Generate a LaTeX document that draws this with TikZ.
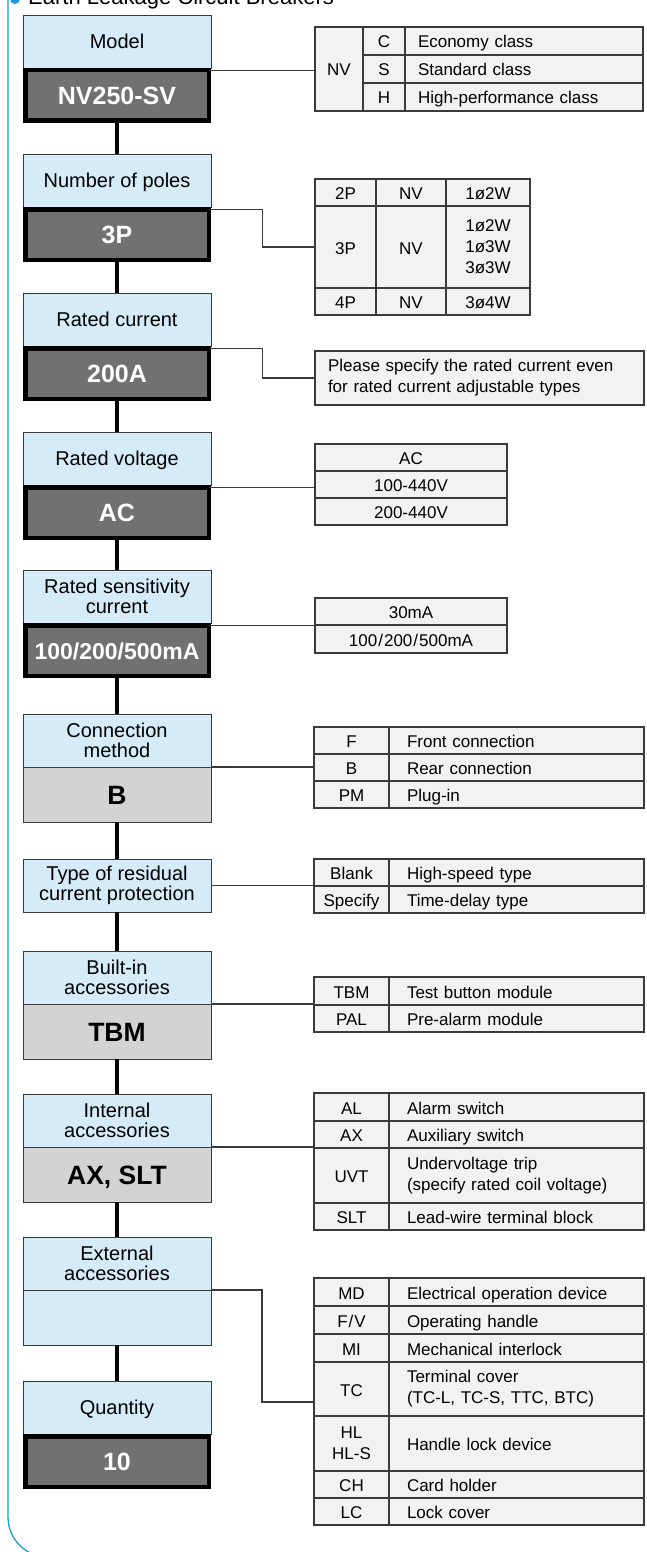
\documentclass[tikz,border=0pt]{standalone}
\usepackage{fontspec}
\setmainfont{Liberation Sans}
\usetikzlibrary{calc}
\definecolor{lblue}{HTML}{D5EBF8}
\definecolor{dgray}{HTML}{717171}
\definecolor{vgray}{HTML}{D3D3D3}
\definecolor{tfill}{HTML}{F2F2F2}
\definecolor{tline}{HTML}{3A3A3A}
\definecolor{fblue}{HTML}{1E9BE0}
\newcommand{\tcell}[7]{\node[cell, minimum width=#4pt, minimum height=#5pt, #6] (#1) at (#2,#3) {#7};}
\begin{document}
\begin{tikzpicture}[x=1pt,y=-1pt,
 lbl/.style={draw=tline, line width=0.9pt, fill=lblue, minimum width=188pt, inner sep=0pt, outer sep=0pt, align=center, anchor=north, font=\fontsize{20}{19.5}\selectfont},
 lone/.style={text height=14.3pt, text depth=0pt},
 darkval/.style={draw=black, line width=4.5pt, fill=dgray, minimum width=183.5pt, minimum height=50.5pt, inner sep=0pt, outer sep=0pt, anchor=north, text=white, text height=18pt, text depth=0pt, font=\fontsize{25}{25}\selectfont\bfseries},
 grayval/.style={draw=tline, line width=0.9pt, fill=vgray, minimum width=188pt, minimum height=55pt, inner sep=0pt, outer sep=0pt, anchor=north, text height=19pt, text depth=0pt, font=\fontsize{26.5}{26}\selectfont\bfseries},
 link/.style={line width=4.5pt, black},
 conn/.style={line width=1.1pt, draw=tline},
 cell/.style={draw=tline, line width=1.1pt, fill=tfill, inner sep=0pt, outer sep=0pt, anchor=north west, font=\fontsize{17}{21}\selectfont},
 one/.style={text height=14pt, text depth=0pt},
 codec/.style={align=center},
 descA/.style={align=left, text width=212pt, inner xsep=13pt},
 descB/.style={align=left, text width=219pt, inner xsep=18pt},
 descC/.style={align=left, text width=303pt, inner xsep=13pt},
]
\useasboundingbox (0,0) rectangle (646,1552);
\fill[white] (0,0) rectangle (646,1552);
% frame
\draw[fblue, line width=1.3pt, rounded corners=40pt] (8,-20) -- (8,1557) -- (700,1557);
% title
\node[circle, fill=fblue, minimum size=10pt, inner sep=0pt] (bullet) at (15,-1) {};
\node[anchor=base west, inner sep=0pt, font=\fontsize{22}{22}\selectfont] (title) at (28,5) {Earth Leakage Circuit Breakers};
% left column
\node[lbl, lone, minimum height=53pt] (m1) at (117,15) {Model};
\node[darkval] (v1) at (117,70.25) {NV250-SV};
\node[lbl, lone, minimum height=53pt] (m2) at (117,154) {Number of poles};
\node[darkval] (v2) at (117,209.25) {3P};
\node[lbl, lone, minimum height=53pt] (m3) at (117,293) {Rated current};
\node[darkval] (v3) at (117,348.25) {200A};
\node[lbl, lone, minimum height=53pt] (m4) at (117,432) {Rated voltage};
\node[darkval] (v4) at (117,487.25) {AC};
\node[lbl, minimum height=53pt] (m5) at (117,570) {Rated sensitivity\\current};
\node[darkval, font=\fontsize{23}{23}\selectfont\bfseries] (v5) at (117,625.25) {100/200/500mA};
\node[lbl, minimum height=53pt] (m6) at (117,714) {Connection\\method};
\node[grayval] (g6) at (117,767) {B};
\node[lbl, minimum height=53pt] (m7) at (117,859) {Type of residual\\current protection};
\node[lbl, minimum height=53pt] (m8) at (117,951) {Built-in\\accessories};
\node[grayval] (g8) at (117,1004) {TBM};
\node[lbl, minimum height=53pt] (m9) at (117,1094) {Internal\\accessories};
\node[grayval] (g9) at (117,1147) {AX, SLT};
\node[lbl, minimum height=53pt] (m10) at (117,1237) {External\\accessories};
\node[lbl, minimum height=55pt] (e10) at (117,1290) {};
\node[lbl, lone, minimum height=53pt] (m11) at (117,1381) {Quantity};
\node[darkval] (v11) at (117,1436.25) {10};
\foreach \a/\b in {v1/m2, v2/m3, v3/m4, v4/m5, v5/m6, g6/m7, m7/m8, g8/m9, g9/m10, e10/m11}
  \draw[link] (\a.south) -- (\b.north);
% T1
\tcell{t1a}{315}{27}{48}{84}{codec,one}{NV}
\tcell{t1b}{363}{27}{42}{28}{codec,one}{C}
\tcell{t1c}{363}{55}{42}{28}{codec,one}{S}
\tcell{t1d}{363}{83}{42}{28}{codec,one}{H}
\tcell{t1e}{405}{27}{238}{28}{descA,one}{Economy class}
\tcell{t1f}{405}{55}{238}{28}{descA,one}{Standard class}
\tcell{t1g}{405}{83}{238}{28}{descA,one}{High-performance class}
% T2
\tcell{t2a}{315}{179}{61}{27}{codec,one}{2P}
\tcell{t2b}{376}{179}{70}{27}{codec,one}{NV}
\tcell{t2c}{446}{179}{84}{27}{codec,one}{1ø2W}
\tcell{t2d}{315}{206}{61}{82}{codec,one}{3P}
\tcell{t2e}{376}{206}{70}{82}{codec,one}{NV}
\tcell{t2f}{446}{206}{84}{82}{codec}{1ø2W\\1ø3W\\3ø3W}
\tcell{t2g}{315}{288}{61}{27}{codec,one}{4P}
\tcell{t2h}{376}{288}{70}{27}{codec,one}{NV}
\tcell{t2i}{446}{288}{84}{27}{codec,one}{3ø4W}
% T3
\tcell{t3}{315}{351}{329}{54}{descC}{Please specify the rated current even\\for rated current adjustable types}
% T4
\tcell{t4a}{315}{444}{192}{27}{codec,one}{AC}
\tcell{t4b}{315}{471}{192}{27}{codec,one}{100-440V}
\tcell{t4c}{315}{498}{192}{27}{codec,one}{200-440V}
% T5
\tcell{t5a}{315}{598}{192}{27}{codec,one}{30mA}
\tcell{t5b}{315}{625}{192}{28}{codec,one}{100{\kern1pt}/{\kern1pt}200{\kern1pt}/{\kern1pt}500mA}
% T6
\tcell{t6a}{314}{727}{75}{27}{codec,one}{F}
\tcell{t6b}{389}{727}{255}{27}{descB,one}{Front connection}
\tcell{t6c}{314}{754}{75}{27}{codec,one}{B}
\tcell{t6d}{389}{754}{255}{27}{descB,one}{Rear connection}
\tcell{t6e}{314}{781}{75}{27}{codec,one}{PM}
\tcell{t6f}{389}{781}{255}{27}{descB,one}{Plug-in}
% T7
\tcell{t7a}{314}{859}{75}{27}{codec,one}{Blank}
\tcell{t7b}{389}{859}{255}{27}{descB,one}{High-speed type}
\tcell{t7c}{314}{886}{75}{27}{codec,one}{Specify}
\tcell{t7d}{389}{886}{255}{27}{descB,one}{Time-delay type}
% T8
\tcell{t8a}{314}{977}{75}{28}{codec,one}{TBM}
\tcell{t8b}{389}{977}{255}{28}{descB,one}{Test button module}
\tcell{t8c}{314}{1005}{75}{27}{codec,one}{PAL}
\tcell{t8d}{389}{1005}{255}{27}{descB,one}{Pre-alarm module}
% T9
\tcell{t9a}{314}{1093}{75}{28}{codec,one}{AL}
\tcell{t9b}{389}{1093}{255}{28}{descB,one}{Alarm switch}
\tcell{t9c}{314}{1121}{75}{27}{codec,one}{AX}
\tcell{t9d}{389}{1121}{255}{27}{descB,one}{Auxiliary switch}
\tcell{t9e}{314}{1148}{75}{55}{codec,one}{UVT}
\tcell{t9f}{389}{1148}{255}{55}{descB}{Undervoltage trip\\(specify rated coil voltage)}
\tcell{t9g}{314}{1203}{75}{27}{codec,one}{SLT}
\tcell{t9h}{389}{1203}{255}{27}{descB,one}{Lead-wire terminal block}
% T10
\tcell{t10a}{314}{1278}{75}{28}{codec,one}{MD}
\tcell{t10b}{389}{1278}{255}{28}{descB,one}{Electrical operation device}
\tcell{t10c}{314}{1306}{75}{28}{codec,one}{F{\kern1pt}/{\kern1pt}V}
\tcell{t10d}{389}{1306}{255}{28}{descB,one}{Operating handle}
\tcell{t10e}{314}{1334}{75}{28}{codec,one}{MI}
\tcell{t10f}{389}{1334}{255}{28}{descB,one}{Mechanical interlock}
\tcell{t10g}{314}{1362}{75}{54}{codec,one}{TC}
\tcell{t10h}{389}{1362}{255}{54}{descB}{Terminal cover\\(TC-L, TC-S, TTC, BTC)}
\tcell{t10i}{314}{1416}{75}{55}{codec}{HL\\HL-S}
\tcell{t10j}{389}{1416}{255}{55}{descB,one}{Handle lock device}
\tcell{t10k}{314}{1471}{75}{27}{codec,one}{CH}
\tcell{t10l}{389}{1471}{255}{27}{descB,one}{Card holder}
\tcell{t10m}{314}{1498}{75}{27}{codec,one}{LC}
\tcell{t10n}{389}{1498}{255}{27}{descB,one}{Lock cover}
\coordinate (t10in) at (314,1402);
% connectors
\draw[conn] (v1.north east) -- (v1.north east -| t1a.west);
\draw[conn] (v2.north east) -- ++(54,0) |- (t2d.west);
\draw[conn] (v3.north east) -- ++(54,0) |- (t3.west);
\draw[conn] (v4.north east) -- (v4.north east -| t4a.west);
\draw[conn] (v5.north east) -- (v5.north east -| t5a.west);
\draw[conn] (m6.south east) -- (m6.south east -| t6a.west);
\draw[conn] (m7.east) -- (m7.east -| t7a.west);
\draw[conn] (m8.south east) -- (m8.south east -| t8a.west);
\draw[conn] (m9.south east) -- (m9.south east -| t9a.west);
\draw[conn] (m10.south east) -- ++(51,0) |- (t10in);
\end{tikzpicture}
\end{document}
